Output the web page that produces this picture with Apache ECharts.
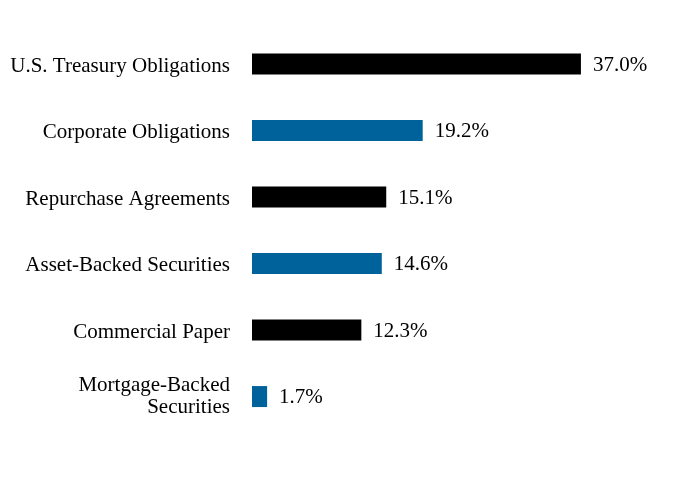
<!DOCTYPE html>
<html>
<head>
<meta charset="utf-8">
<script src="https://cdn.jsdelivr.net/npm/echarts@6/dist/echarts.min.js"></script>
<style>
  html, body { margin: 0; padding: 0; background: #fff; }
  #chart { width: 684px; height: 504px; }
</style>
</head>
<body>
<div id="chart"></div>
<script>
// top-down order as drawn
const categories = [
  "U.S. Treasury Obligations",
  "Corporate Obligations",
  "Repurchase Agreements",
  "Asset-Backed Securities",
  "Commercial Paper",
  "Mortgage-Backed\nSecurities"
];
const values = [37.0, 19.2, 15.1, 14.6, 12.3, 1.7];
const barColors = ["#000000", "#00629B"];

const chart = echarts.init(document.getElementById("chart"));

const option = {
  animation: false,
  textStyle: { fontFamily: "Liberation Serif" },
  grid: { left: 252, right: 76.4, top: 30.8, bottom: 74.2, containLabel: false },
  xAxis: {
    type: "value",
    min: 0,
    max: 40,
    show: false
  },
  yAxis: {
    type: "category",
    inverse: true,
    data: categories,
    axisLine: { show: false },
    axisTick: { show: false },
    splitLine: { show: false },
    axisLabel: {
      margin: 22,
      color: "#000",
      fontSize: 21,
      fontFamily: "Liberation Serif",
      lineHeight: 22,
      align: "right",
      // single-line names sit a touch below the bar centre
      formatter: v => v.indexOf("\n") >= 0 ? v : "{s|" + v + "}",
      rich: {
        s: {
          color: "#000",
          fontSize: 21,
          fontFamily: "Liberation Serif",
          lineHeight: 22,
          padding: [4, 0, 0, 0]
        }
      }
    }
  },
  series: [
    {
      type: "bar",
      barWidth: 21,
      data: values.map((v, i) => ({
        value: v,
        itemStyle: { color: barColors[i % 2] }
      })),
      label: {
        show: true,
        position: "right",
        distance: 12,
        offset: [0, 1],
        color: "#000",
        fontSize: 21,
        fontFamily: "Liberation Serif",
        formatter: p => p.value.toFixed(1) + "%"
      }
    }
  ]
};

chart.setOption(option);
</script>
</body>
</html>
